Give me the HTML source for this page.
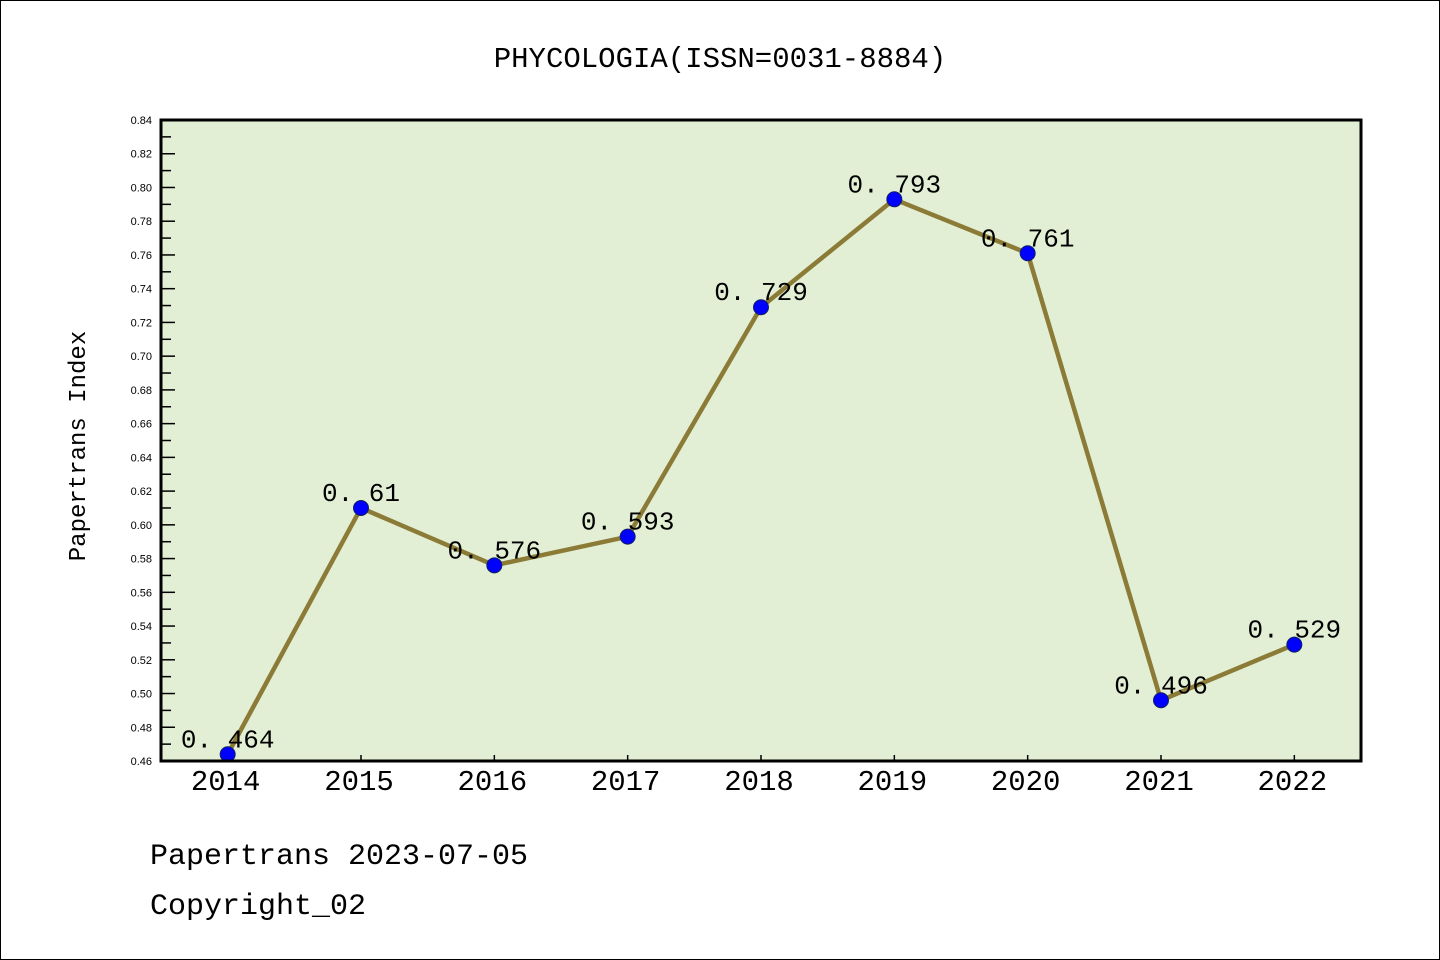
<!DOCTYPE html>
<html><head><meta charset="utf-8"><style>
body{margin:0;background:#fff}
svg{display:block}
text{font-family:"Liberation Mono","WenQuanYi Zen Hei",monospace}
</style></head><body>
<svg id="c" width="1440" height="960" xmlns="http://www.w3.org/2000/svg">
<rect x="0.5" y="0.5" width="1439" height="959" fill="#fff" stroke="#000"/>
<text x="720" y="67" font-size="29" text-anchor="middle">PHYCOLOGIA(ISSN=0031-8884)</text>
<rect x="161" y="120" width="1200" height="641" fill="#e2efd5"/>
<g id="ticks"></g>
<g id="series"></g>
<rect x="161" y="120" width="1200" height="641" fill="none" stroke="#000" stroke-width="3"/>
<text transform="translate(85,446) rotate(-90)" font-size="24" text-anchor="middle">Papertrans Index</text>
<text x="150" y="864" font-size="30">Papertrans 2023-07-05</text>
<text x="150" y="914" font-size="30">Copyright_02</text>
</svg>
<script>
const years=["2014","2015","2016","2017","2018","2019","2020","2021","2022"];
const values=[0.464,0.61,0.576,0.593,0.729,0.793,0.761,0.496,0.529];
const valueLabels=["0.464","0.61","0.576","0.593","0.729","0.793","0.761","0.496","0.529"];
const yMin=0.46,yMax=0.84;
const L=161,R=1361,T=120,B=761;
const NS="http://www.w3.org/2000/svg";
const step=(R-L)/years.length;
const xs=i=>L+step*(i+0.5);
const ys=v=>B-(v-yMin)/(yMax-yMin)*(B-T);
function mk(tag,attrs,parent){const e=document.createElementNS(NS,tag);for(const k in attrs)e.setAttribute(k,attrs[k]);parent.appendChild(e);return e;}
const tk=document.getElementById('ticks'),sr=document.getElementById('series');
for(let k=0;k<=38;k++){
  const v=yMin+k*0.01,y=ys(v),major=k%2===0;
  const t=mk('line',{x1:L,x2:L+(major?14:10),y1:y,y2:y,stroke:'#000','stroke-width':1.5},tk);
  
  
  if(major){const lb=mk('text',{x:L-9,y:y+4,'font-size':11,'text-anchor':'end',style:'font-family:"Liberation Sans",sans-serif'},tk);lb.textContent=v.toFixed(2);
  
  }
}
years.forEach((yr,i)=>{
  const x=xs(i);
  const t=mk('line',{x1:x,x2:x,y1:B,y2:B-6,stroke:'#000','stroke-width':1.5},tk);
  
  
  const lb=mk('text',{x:x-2,y:B+29,'font-size':29,'text-anchor':'middle'},tk);lb.textContent=yr;
  
  
});
const pl=mk('polyline',{points:values.map((v,i)=>xs(i)+','+ys(v)).join(' '),fill:'none',stroke:'#8b7b36','stroke-width':4.5},sr);


values.forEach((v,i)=>{
  const c=mk('circle',{cx:xs(i),cy:ys(v),r:7.5,fill:'#0000ff',stroke:'#102060','stroke-width':1},sr);
  
  
  const lb=mk('text',{x:xs(i),y:ys(v)-7,'font-size':26,'text-anchor':'middle'},sr);
  lb.textContent=valueLabels[i].replace('.','. ');
  
  
});
</script>
</body></html>
